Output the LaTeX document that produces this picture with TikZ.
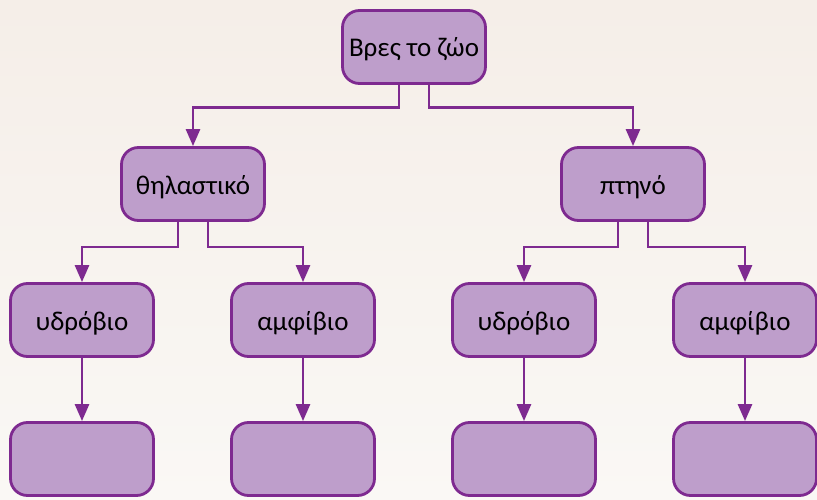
\documentclass[tikz,border=0pt]{standalone}
\usepackage{fontspec}
\setmainfont{Carlito}
\usetikzlibrary{arrows.meta}
\definecolor{boxfill}{HTML}{BE9ECB}
\definecolor{boxline}{HTML}{7E2A90}
\begin{document}
\begin{tikzpicture}[x=1pt, y=-1pt,
	box/.style={rectangle, rounded corners=17, draw=boxline, fill=boxfill, line width=2.8,
		minimum width=143, minimum height=73, inner sep=0pt, text height=20pt, text depth=0pt,
		font=\fontsize{27}{30}\selectfont, text=black},
	link/.style={draw=boxline, line width=2.8, -{Triangle[length=17pt, width=14pt]}}]
\shade[top color={rgb,255:red,245;green,238;blue,232}, bottom color={rgb,255:red,250;green,248;blue,245}]
	(0,0) rectangle (817,500);
\useasboundingbox (0,0) rectangle (817,500);
	\node[box] (root) at (414,47) {Βρες το ζώο};
	\node[box] (thil) at (193,184) {θηλαστικό};
	\node[box] (ptin) at (633,184) {πτηνό};
	\node[box] (thilYd) at (82,320) {υδρόβιο};
	\node[box] (thilAm) at (303,320) {αμφίβιο};
	\node[box] (ptinYd) at (524,320) {υδρόβιο};
	\node[box] (ptinAm) at (745,320) {αμφίβιο};
	\node[box] (thilYdX) at (82,459) {};
	\node[box] (thilAmX) at (303,459) {};
	\node[box] (ptinYdX) at (524,459) {};
	\node[box] (ptinAmX) at (745,459) {};
	% split lines under each parent
	\draw[link] ([xshift=-15]root.south) -- ++(0,23) -| (thil.north);
	\draw[link] ([xshift=15]root.south) -- ++(0,23) -| (ptin.north);
	\draw[link] ([xshift=-15]thil.south) -- ++(0,25) -| (thilYd.north);
	\draw[link] ([xshift=15]thil.south) -- ++(0,25) -| (thilAm.north);
	\draw[link] ([xshift=-15]ptin.south) -- ++(0,25) -| (ptinYd.north);
	\draw[link] ([xshift=15]ptin.south) -- ++(0,25) -| (ptinAm.north);
	% straight links to the empty boxes
	\draw[link] (thilYd) -- (thilYdX);
	\draw[link] (thilAm) -- (thilAmX);
	\draw[link] (ptinYd) -- (ptinYdX);
	\draw[link] (ptinAm) -- (ptinAmX);
\end{tikzpicture}
\end{document}
